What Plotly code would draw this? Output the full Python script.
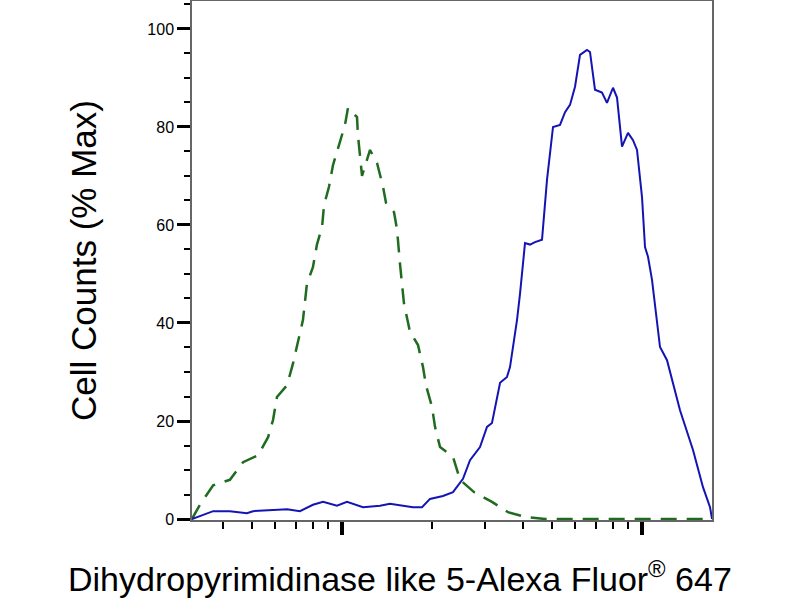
import plotly.graph_objects as go

# isotype / control histogram (green dashed)
ctrl_x = [316, 336, 372, 423, 468, 525, 567, 589, 607, 656, 687, 741, 764, 800,
          825, 858, 871, 905, 933, 970, 1023, 1047, 1122, 1130, 1166, 1240, 1309,
          1370, 1402, 1491, 1526, 1561, 1609, 1685, 1792, 1862, 1905, 1995, 2042,
          2122, 2344, 2474, 2754, 3162, 3575, 4105, 4750, 17120]
ctrl_y = [0, 2.9, 6.9, 8, 11.6, 13, 16.7, 20.2, 24.9, 27.3, 31.8, 40.6, 48, 51.4,
          56, 59.6, 64, 67.8, 72.2, 75.7, 80.4, 83.9, 82, 78.4, 70, 75.3, 72.6,
          67.8, 64.5, 62.6, 59, 52, 44, 38.2, 35.5, 31, 27.3, 22.9, 18.8,
          14.7, 12.7, 8, 5.5, 3.5, 1.4, 0.4, 0, 0]

# stained sample histogram (blue solid)
stain_x = [316, 372, 423, 482, 505, 607, 656, 724, 800, 865, 962, 1039, 1175,
           1339, 1445, 1724, 1848, 1965, 2171, 2344, 2531, 2671, 2884, 3043, 3162,
           3364, 3548, 3631, 3831, 3921, 4012, 4074, 4233, 4399, 4642, 4823, 5051,
           5330, 5539, 5754, 5980, 6214, 6556, 6709, 6971, 7356, 7642, 8004, 8255,
           8577, 8981, 9333, 9624, 10000, 10233, 10471, 10798, 11482, 12115, 13387,
           14791, 15969, 16855, 17120]
stain_y = [0, 1.6, 1.6, 1.2, 1.6, 1.8, 2.0, 1.6, 2.9, 3.5, 2.7, 3.5, 2.4,
           2.7, 3.1, 2.4, 2.4, 4.1, 4.7, 5.5, 8.2, 12, 14.7, 18.8, 19.6,
           27.8, 29, 31, 40.6, 46, 52, 56.3, 56, 56.5, 57, 69.2, 80,
           80.4, 83, 84.5, 88.2, 94.7, 95.7, 95.3, 87.6, 87, 84.9, 88, 86,
           76, 78.8, 77.3, 75.3, 65.7, 55.5, 53.5, 48.8, 35.1, 32.4, 22.2,
           14.1, 6.5, 2.4, 0]

major_x = [1000, 10000]
minor_x = [400, 500, 600, 700, 800, 900, 2000, 3000, 4000, 5000, 6000, 7000,
           8000, 9000]
y_ticks = [0, 20, 40, 60, 80, 100]

fig = go.Figure()
fig.add_trace(go.Scatter(x=ctrl_x, y=ctrl_y, mode="lines",
                         line=dict(color="#1f6b1f", width=2.5, dash="16px,10px"),
                         showlegend=False))
fig.add_trace(go.Scatter(x=stain_x, y=stain_y, mode="lines",
                         line=dict(color="#1414b4", width=2),
                         showlegend=False))

fig.update_xaxes(
    type="log", range=[2.5, 4.2333], automargin=False,
    showgrid=False, zeroline=False,
    showline=True, linecolor="#666666", linewidth=1.5, mirror=True,
    tickmode="array", tickvals=major_x, showticklabels=False,
    ticks="outside", ticklen=13, tickwidth=4, tickcolor="black",
    minor=dict(tickmode="array", tickvals=minor_x, ticks="outside",
               ticklen=7, tickwidth=2, tickcolor="black", showgrid=False),
)
fig.update_yaxes(
    range=[-0.2, 105.7], automargin=False,
    showgrid=False, zeroline=False,
    showline=True, linecolor="#666666", linewidth=1.5, mirror=True,
    tickmode="array", tickvals=y_ticks,
    ticks="outside", ticklen=13, tickwidth=2.5, tickcolor="black",
    tickfont=dict(size=16, color="black"),
    minor=dict(dtick=5, ticks="outside", ticklen=6, tickwidth=2,
               tickcolor="black", showgrid=False),
    title=dict(text="Cell Counts (% Max)", font=dict(size=35, color="black"),
               standoff=40),
)

# x title is centred on the whole image in the original, not on the plot area
fig.add_annotation(
    text="Dihydropyrimidinase like 5-Alexa Fluor<sup>®</sup> 647",
    xref="paper", yref="paper", x=(400 - 192) / 520, y=-0.108,
    xanchor="center", yanchor="middle", showarrow=False,
    font=dict(size=34, color="black"),
)

fig.update_layout(
    width=800, height=600,
    margin=dict(l=192, r=88, t=1, b=80),
    paper_bgcolor="white", plot_bgcolor="white",
    font=dict(family="Liberation Sans, Arial, sans-serif"),
)

fig.write_html("out.html", config={"displayModeBar": False},
               post_script="document.body.style.margin='0px';")
